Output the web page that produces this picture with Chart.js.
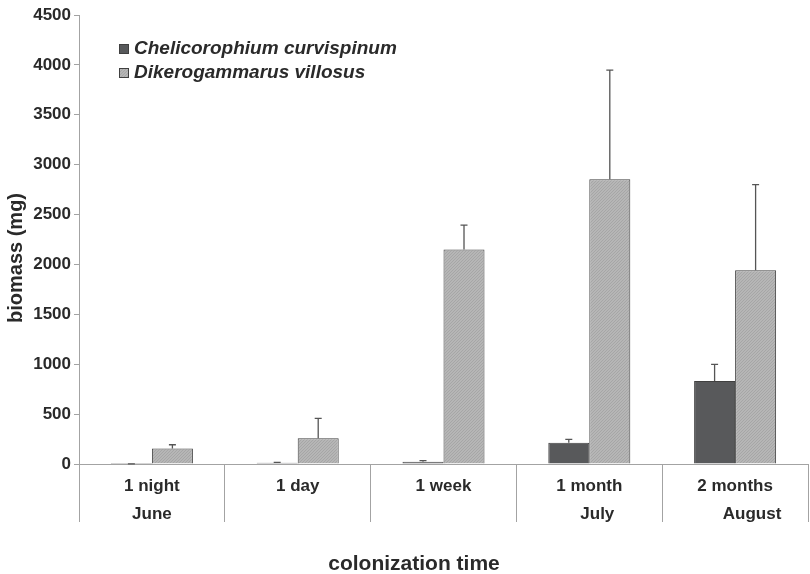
<!DOCTYPE html>
<html>
<head>
<meta charset="utf-8">
<script src="https://cdn.jsdelivr.net/npm/chart.js@4.4.1/dist/chart.umd.min.js"></script>
<style>
  html, body { margin: 0; padding: 0; background: #ffffff; }
  #wrap { width: 810px; height: 574px; position: relative; }
</style>
</head>
<body>
<div id="wrap"><canvas id="c" width="810" height="574"></canvas></div>
<script>
// Biomass per colonization time, mean and upper error
const categories = ['1 night', '1 day', '1 week', '1 month', '2 months'];
const months = ['June', '', '', 'July', 'August'];
const seriesNames = ['Chelicorophium curvispinum', 'Dikerogammarus villosus'];
const chelicorophium = [1, 13, 23, 213, 832];
const chelicorophiumErr = [1, 3, 10, 34, 167];
const dikerogammarus = [155, 257, 2151, 2853, 1941];
const dikerogammarusErr = [38, 201, 244, 1095, 858];
const yTicks = [0, 500, 1000, 1500, 2000, 2500, 3000, 3500, 4000, 4500];
const yTitle = 'biomass (mg)';
const xTitle = 'colonization time';

const FONT = "'Liberation Sans', Arial, Helvetica, sans-serif";
const TEXT = '#2a2a2a';
const AXIS = '#a3a3a3';
const DARK = '#58595b';
const EDGE = '#404040';

// fine diagonal hatch for the light bars
function hatch() {
  const p = document.createElement('canvas');
  p.width = 3; p.height = 3;
  const g = p.getContext('2d');
  g.fillStyle = '#b6b6b6';
  g.fillRect(0, 0, 3, 3);
  g.fillStyle = '#a6a6a6';
  for (let i = 0; i < 3; i++) g.fillRect(i, 2 - i, 1, 1);
  return g.createPattern(p, 'repeat');
}
const LIGHT = hatch();

// upward error bars with a short cap
const errorBars = {
  id: 'errorBars',
  afterDatasetsDraw(chart) {
    const ctx = chart.ctx;
    const y = chart.scales.y;
    chart.data.datasets.forEach((ds, di) => {
      const meta = chart.getDatasetMeta(di);
      meta.data.forEach((bar, i) => {
        const top = y.getPixelForValue(ds.data[i] + ds.errors[i]);
        const base = y.getPixelForValue(ds.data[i]);
        ctx.save();
        ctx.strokeStyle = '#555555';
        ctx.lineWidth = 1.3;
        ctx.beginPath();
        ctx.moveTo(bar.x, base);
        ctx.lineTo(bar.x, top);
        ctx.moveTo(bar.x - 3.5, top);
        ctx.lineTo(bar.x + 3.5, top);
        ctx.stroke();
        ctx.restore();
      });
    });
  }
};

// legend box, month row and axis titles
const decorations = {
  id: 'decorations',
  afterDraw(chart) {
    const ctx = chart.ctx;
    const x = chart.scales.x;
    ctx.save();
    // legend
    ctx.font = "italic bold 19px " + FONT;
    ctx.textBaseline = 'middle';
    ctx.textAlign = 'left';
    const fills = [DARK, LIGHT];
    seriesNames.forEach((name, i) => {
      const cy = 49 + i * 24;
      ctx.fillStyle = fills[i];
      ctx.fillRect(119, cy - 5, 10, 10);
      ctx.strokeStyle = EDGE;
      ctx.lineWidth = 1;
      ctx.strokeRect(119.5, cy - 4.5, 9, 9);
      ctx.fillStyle = TEXT;
      ctx.fillText(name, 134, cy);
    });
    // month row
    const shift = [0, 0, 0, 8, 17];
    ctx.font = "bold 17px " + FONT;
    ctx.textAlign = 'center';
    months.forEach((m, i) => {
      if (!m) return;
      ctx.fillText(m, x.getPixelForValue(i) + shift[i], 514);
    });
    // axis titles
    ctx.font = "bold 21px " + FONT;
    ctx.fillText(xTitle, 414, 564);
    ctx.translate(16, 258);
    ctx.rotate(-Math.PI / 2);
    ctx.font = "bold 20px " + FONT;
    ctx.fillText(yTitle, 0, 0);
    ctx.restore();
  }
};

new Chart(document.getElementById('c'), {
  type: 'bar',
  data: {
    labels: categories,
    datasets: [
      {
        label: seriesNames[0],
        data: chelicorophium,
        errors: chelicorophiumErr,
        backgroundColor: DARK,
        borderColor: EDGE,
        borderWidth: 1,
        categoryPercentage: 0.5625,
        barPercentage: 1
      },
      {
        label: seriesNames[1],
        data: dikerogammarus,
        errors: dikerogammarusErr,
        backgroundColor: LIGHT,
        borderColor: EDGE,
        borderWidth: 1,
        categoryPercentage: 0.5625,
        barPercentage: 1
      }
    ]
  },
  options: {
    responsive: false,
    devicePixelRatio: 1,
    animation: false,
    layout: { padding: { top: 15, right: 2, bottom: 0, left: 0 } },
    plugins: { legend: { display: false }, tooltip: { enabled: false } },
    scales: {
      x: {
        grid: { display: true, offset: true, drawOnChartArea: false, drawTicks: true, tickLength: 58, color: AXIS, lineWidth: 1 },
        border: { display: true, color: AXIS, width: 1 },
        ticks: { font: { family: FONT, size: 17, weight: 'bold' }, color: TEXT, padding: -46, maxRotation: 0, minRotation: 0 },
        afterFit(s) { s.height = 110; }
      },
      y: {
        min: 0,
        max: 4500,
        afterBuildTicks(s) { s.ticks = yTicks.map(v => ({ value: v })); },
        ticks: { font: { family: FONT, size: 17, weight: 'bold' }, color: TEXT, padding: 3, callback: v => String(v) },
        grid: { display: true, drawOnChartArea: false, drawTicks: true, tickLength: 5, color: AXIS },
        border: { display: true, color: AXIS, width: 1 },
        afterFit(s) { s.width = 79; }
      }
    }
  },
  plugins: [errorBars, decorations]
});
</script>
</body>
</html>
